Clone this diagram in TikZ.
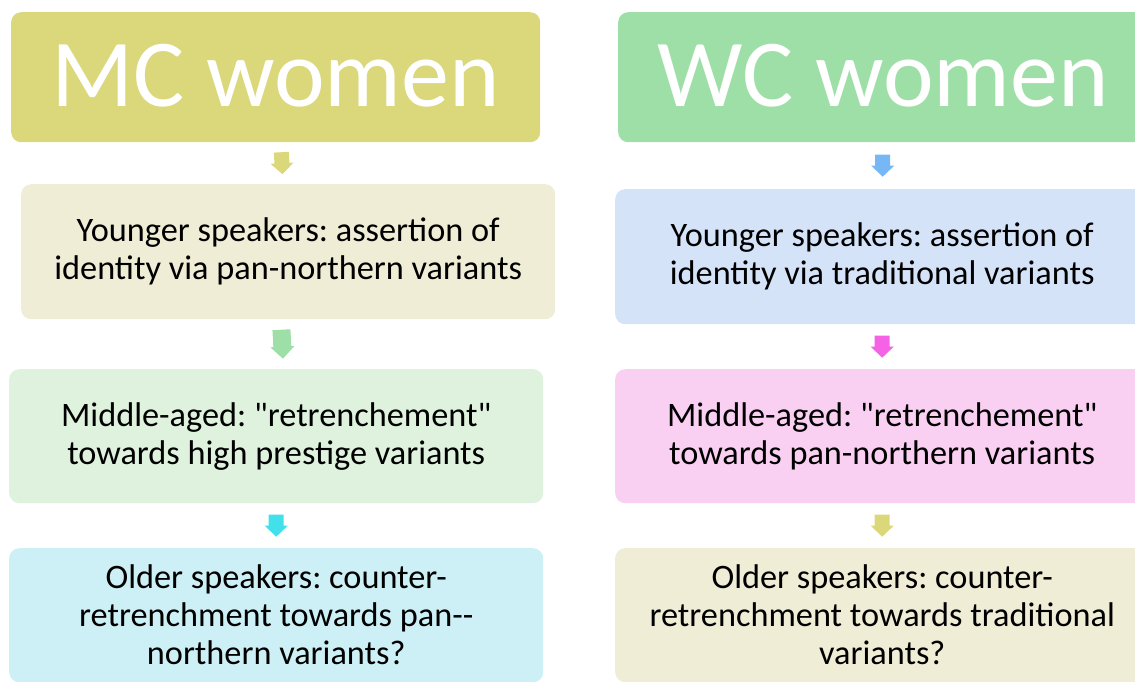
\documentclass[tikz,border=0pt]{standalone}
\usepackage{fontspec}
\setmainfont{Carlito}
\newfontfamily\carl{Carlito}
\usetikzlibrary{calc}
\definecolor{olive}{HTML}{DBD77B}
\definecolor{olivelt}{HTML}{EFEDD6}
\definecolor{grn}{HTML}{9EDFA7}
\definecolor{grnlt}{HTML}{DEF2DE}
\definecolor{cyn}{HTML}{42E0EA}
\definecolor{cynlt}{HTML}{CCF0F5}
\definecolor{blu}{HTML}{78B7F5}
\definecolor{blult}{HTML}{D5E3F9}
\definecolor{mag}{HTML}{F562E6}
\definecolor{maglt}{HTML}{F9CFF2}
\tikzset{
  box/.style={anchor=north west, rounded corners=10pt, inner sep=0pt, align=center,
    font=\carl\frenchspacing\fontsize{34.3}{38}\selectfont, text=black},
  titlebox/.style={box, font=\carl\fontsize{96}{100}\selectfont, text=white},
  darrow/.pic={
    \pgfkeysgetvalue{/tikz/arrlen}{\L}\pgfkeysgetvalue{/tikz/arrhead}{\H}%
    \pgfkeysgetvalue{/tikz/arrsw}{\S}\pgfkeysgetvalue{/tikz/arrhw}{\W}%
    \fill[pic actions] (-\S,-\L/2) -- (\S,-\L/2) -- (\S,\L/2-\H) -- (\W,\L/2-\H)
      -- (0,\L/2) -- (-\W,\L/2-\H) -- (-\S,\L/2-\H) -- cycle;
  },
  arrlen/.initial=22, arrhead/.initial=11, arrsw/.initial=7.5, arrhw/.initial=11.5,
}
\begin{document}
\begin{tikzpicture}[x=1pt,y=-1pt]
\useasboundingbox (0,0) rectangle (1135,681);
\clip (0,0) rectangle (1135,681);
% left column
\node[titlebox, fill=olive, minimum width=529pt, minimum height=130pt] (mc) at (11,12) {\raisebox{4pt}{MC women}};
\node[box, fill=olivelt, minimum width=534pt, minimum height=135pt] (l1) at (21,184)
  {Younger speakers: assertion of\\identity via pan-northern variants};
\node[box, fill=grnlt, minimum width=534pt, minimum height=134pt] (l2) at (9,369)
  {Middle-aged: "retrenchement"\\towards high prestige variants};
\node[box, fill=cynlt, minimum width=534pt, minimum height=134pt] (l3) at (9,548)
  {Older speakers: counter-\\retrenchment towards pan--\\northern variants?};
% right column
\node[titlebox, fill=grn, minimum width=530pt, minimum height=130pt] (wc) at (618,12) {\raisebox{4pt}{WC women}};
\node[box, fill=blult, minimum width=534pt, minimum height=135pt] (r1) at (615,189)
  {Younger speakers: assertion of\\identity via traditional variants};
\node[box, fill=maglt, minimum width=534pt, minimum height=134pt] (r2) at (615,369)
  {Middle-aged: "retrenchement"\\towards pan-northern variants};
\node[box, fill=olivelt, minimum width=534pt, minimum height=134pt] (r3) at (615,548)
  {Older speakers: counter-\\retrenchment towards traditional\\variants?};
% arrows
\pic[fill=olive, rotate=3] at ($(mc.south)!0.5!(l1.north)$) {darrow};
\pic[fill=grn, rotate=3, arrlen=29, arrhead=12, arrsw=9, arrhw=12] at ($(l1.south)!0.5!(l2.north)$) {darrow};
\pic[fill=cyn] at ($(l2.south)!0.5!(l3.north)$) {darrow};
\pic[fill=blu] at ($(wc.south)!0.5!(r1.north)$) {darrow};
\pic[fill=mag] at ($(r1.south)!0.5!(r2.north)$) {darrow};
\pic[fill=olive] at ($(r2.south)!0.5!(r3.north)$) {darrow};
\end{tikzpicture}
\end{document}
